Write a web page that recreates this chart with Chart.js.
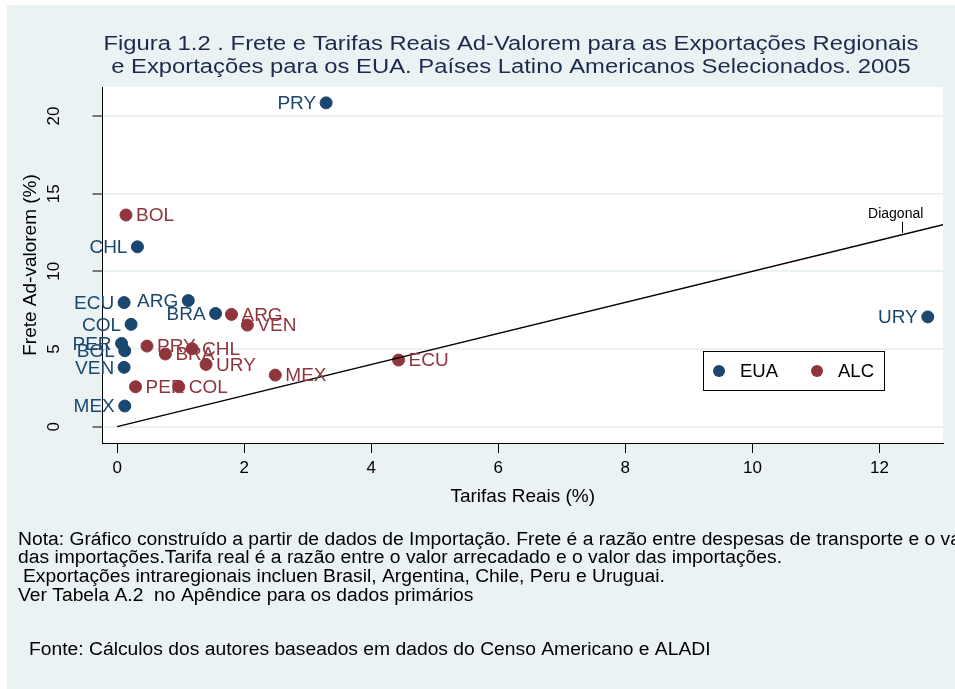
<!DOCTYPE html>
<html>
<head>
<meta charset="utf-8">
<script src="https://cdn.jsdelivr.net/npm/chart.js@4/dist/chart.umd.min.js"></script>
<style>
  html, body { margin: 0; padding: 0; background: #ffffff; }
  canvas { display: block; }
</style>
</head>
<body>
<canvas id="grafico" width="955" height="689"></canvas>
<script>
// dados
var paisesEUA = ['PRY', 'CHL', 'ECU', 'ARG', 'COL', 'BRA', 'PER', 'BOL', 'VEN', 'MEX', 'URY'];
var tarifaEUA = [3.29, 0.32, 0.11, 1.12, 0.22, 1.55, 0.07, 0.12, 0.11, 0.12, 12.76];
var freteEUA  = [20.85, 11.58, 7.99, 8.12, 6.59, 7.29, 5.36, 4.89, 3.82, 1.33, 7.07];

var paisesALC = ['BOL', 'ARG', 'VEN', 'PRY', 'BRA', 'CHL', 'URY', 'MEX', 'PER', 'COL', 'ECU'];
var tarifaALC = [0.14, 1.80, 2.05, 0.47, 0.76, 1.18, 1.40, 2.49, 0.29, 0.97, 4.43];
var freteALC  = [13.63, 7.23, 6.54, 5.19, 4.68, 5.02, 4.01, 3.32, 2.57, 2.57, 4.29];

var diagonalX = [0, 13];
var xTicks = [0, 2, 4, 6, 8, 10, 12];
var yTicks = [0, 5, 10, 15, 20];

var titulo = [
    'Figura 1.2 . Frete e Tarifas Reais Ad-Valorem para as Exportações Regionais',
    'e Exportações para os EUA. Países Latino Americanos Selecionados. 2005'
];
var notas = [
    'Nota: Gráfico construído a partir de dados de Importação. Frete é a razão entre despesas de transporte e o valor',
    'das importações.Tarifa real é a razão entre o valor arrecadado e o valor das importações.',
    'Exportações intraregionais incluen Brasil, Argentina, Chile, Peru e Uruguai.',
    'Ver Tabela A.2  no Apêndice para os dados primários'
];
var fonte = 'Fonte: Cálculos dos autores baseados em dados do Censo Americano e ALADI';

var azul = '#1a476f';
var vermelho = '#90353b';
var fundo = '#eaf2f3';
var fontFamily = '"Liberation Sans", Arial, sans-serif';

function pontos(xs, ys) {
    return xs.map(function (x, i) { return { x: x, y: ys[i] }; });
}

// texto com largura alargada (a fonte da figura é mais larga que a Liberation)
function esticado(ctx, t, x, y, fator) {
    ctx.save();
    ctx.translate(x, y);
    ctx.scale(fator, 1);
    ctx.fillText(t, 0, 0);
    ctx.restore();
}

var EUA = {
    type: 'scatter',
    label: 'EUA',
    data: pontos(tarifaEUA, freteEUA),
    nomes: paisesEUA,
    lado: 'left',
    backgroundColor: azul,
    borderColor: azul,
    pointRadius: 6,
    pointHoverRadius: 6
};

var ALC = {
    type: 'scatter',
    label: 'ALC',
    data: pontos(tarifaALC, freteALC),
    nomes: paisesALC,
    lado: 'right',
    backgroundColor: vermelho,
    borderColor: vermelho,
    pointRadius: 6,
    pointHoverRadius: 6
};

var Diagonal = {
    type: 'line',
    label: 'Diagonal',
    data: pontos(diagonalX, diagonalX),
    borderColor: '#000000',
    borderWidth: 1.4,
    pointRadius: 0,
    fill: false
};

var fundoPlugin = {
    id: 'fundo',
    beforeDraw: function (chart) {
        var ctx = chart.ctx, a = chart.chartArea;
        ctx.save();
        ctx.fillStyle = '#ffffff';
        ctx.fillRect(0, 0, chart.width, chart.height);
        ctx.fillStyle = fundo;
        ctx.fillRect(7, 5, chart.width - 7, chart.height - 5);
        ctx.fillStyle = '#ffffff';
        ctx.fillRect(a.left, a.top, a.right - a.left, a.bottom - a.top);
        ctx.restore();
    }
};

var textosPlugin = {
    id: 'textos',
    afterDatasetsDraw: function (chart) {
        var ctx = chart.ctx;
        ctx.save();
        // rótulos dos países
        ctx.font = '19px ' + fontFamily;
        ctx.textBaseline = 'middle';
        chart.data.datasets.forEach(function (ds, i) {
            if (!ds.nomes) return;
            var meta = chart.getDatasetMeta(i);
            ctx.fillStyle = ds.borderColor;
            ctx.textAlign = ds.lado === 'left' ? 'right' : 'left';
            meta.data.forEach(function (p, j) {
                var dx = ds.lado === 'left' ? -10 : 10;
                ctx.fillText(ds.nomes[j], p.x + dx, p.y + 1);
            });
        });

        // rótulo da diagonal
        var sx = chart.scales.x, sy = chart.scales.y;
        var px = sx.getPixelForValue(12.35), py = sy.getPixelForValue(12.35);
        ctx.strokeStyle = '#000000';
        ctx.lineWidth = 1;
        ctx.beginPath();
        ctx.moveTo(Math.round(px) + 0.5, py - 2);
        ctx.lineTo(Math.round(px) + 0.5, py - 13);
        ctx.stroke();
        ctx.fillStyle = '#000000';
        ctx.font = '14px ' + fontFamily;
        ctx.textAlign = 'center';
        ctx.textBaseline = 'middle';
        ctx.fillText('Diagonal', px - 6, py - 21);

        // legenda
        var lx = 703, ly = 351, lw = 181, lh = 39;
        ctx.fillStyle = '#ffffff';
        ctx.fillRect(lx, ly, lw, lh);
        ctx.strokeStyle = '#000000';
        ctx.strokeRect(lx + 0.5, ly + 0.5, lw, lh);
        var itens = [EUA, ALC];
        var posicoes = [719, 817];
        ctx.font = '18.5px ' + fontFamily;
        ctx.textAlign = 'left';
        itens.forEach(function (ds, k) {
            ctx.fillStyle = ds.backgroundColor;
            ctx.beginPath();
            ctx.arc(posicoes[k], ly + 20, 6, 0, Math.PI * 2);
            ctx.fill();
            ctx.fillStyle = '#000000';
            ctx.fillText(ds.label, posicoes[k] + 21, ly + 21);
        });

        // título
        ctx.fillStyle = '#1c2a4e';
        ctx.font = '20px ' + fontFamily;
        ctx.textAlign = 'left';
        var fatorT = 815 / ctx.measureText(titulo[0]).width;
        [44, 67].forEach(function (y, k) {
            var w = ctx.measureText(titulo[k]).width * fatorT;
            esticado(ctx, titulo[k], 511 - w / 2, y, fatorT);
        });

        // notas
        ctx.fillStyle = '#000000';
        ctx.font = '18px ' + fontFamily;
        var fatorN = 764 / ctx.measureText(notas[1]).width;
        var ys = [540, 558, 577, 596];
        var xs = [18, 18, 23, 18];
        notas.forEach(function (t, k) { esticado(ctx, t, xs[k], ys[k], fatorN); });
        esticado(ctx, fonte, 29, 650, fatorN);
        ctx.restore();
    }
};

var grafico = new Chart(document.getElementById('grafico'), {
    data: { datasets: [Diagonal, EUA, ALC] },
    options: {
        responsive: false,
        devicePixelRatio: 1,
        animation: false,
        layout: { padding: { left: 7, top: 87, right: 12, bottom: 176 } },
        plugins: {
            legend: { display: false },
            tooltip: { enabled: false },
            title: { display: false }
        },
        scales: {
            x: {
                type: 'linear',
                min: -0.23,
                max: 13,
                afterFit: function (s) { s.height = 70; },
                afterBuildTicks: function (s) { s.ticks = xTicks.map(function (v) { return { value: v }; }); },
                border: { color: '#000000', width: 1 },
                grid: { drawOnChartArea: false, drawTicks: true, tickLength: 10, tickColor: '#000000', tickWidth: 1 },
                ticks: { color: '#000000', padding: 5, font: { family: fontFamily, size: 17 } },
                title: { display: true, text: 'Tarifas Reais (%)', color: '#000000', padding: { top: 4, bottom: 5 }, font: { family: fontFamily, size: 19 } }
            },
            y: {
                type: 'linear',
                min: -1.05,
                max: 21.87,
                afterFit: function (s) { s.width = 95.5; },
                afterBuildTicks: function (s) { s.ticks = yTicks.map(function (v) { return { value: v }; }); },
                border: { color: '#000000', width: 1 },
                grid: { color: fundo, lineWidth: 2, drawTicks: true, tickLength: 10, tickColor: '#000000', tickWidth: 1 },
                ticks: { color: '#000000', padding: 29, minRotation: 90, maxRotation: 90, crossAlign: 'center', font: { family: fontFamily, size: 17 } },
                title: { display: true, text: 'Frete Ad-valorem (%)', color: '#000000', padding: { top: 12, bottom: 0 }, font: { family: fontFamily, size: 19 } }
            }
        }
    },
    plugins: [fundoPlugin, textosPlugin]
});
</script>
</body>
</html>
